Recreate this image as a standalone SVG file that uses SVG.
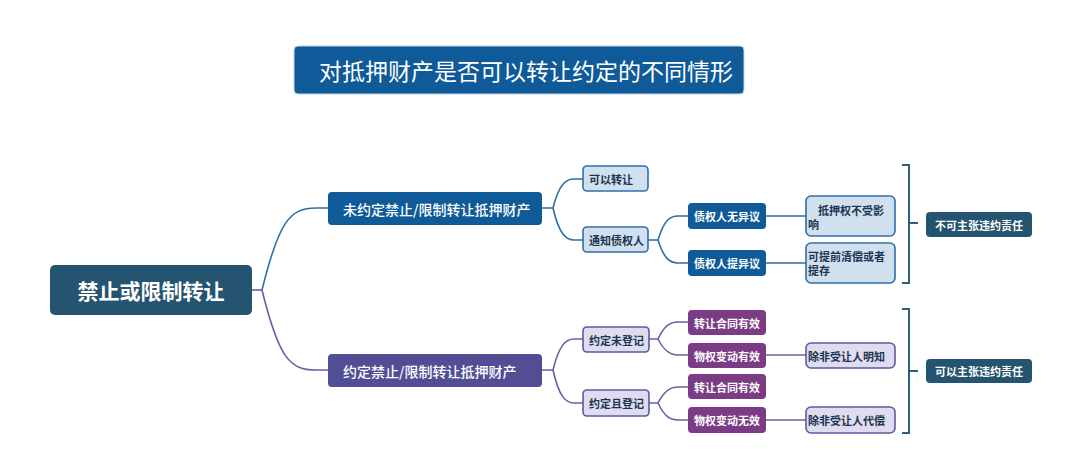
<svg xmlns="http://www.w3.org/2000/svg" width="1080" height="460" viewBox="0 0 1080 460">
<style>
text{font-family:"Noto Sans CJK SC","Noto Sans",sans-serif;dominant-baseline:central}
.w{fill:#ffffff}
.d{fill:#1c3550}
.s11{font-size:11px;font-weight:bold}
.blue{fill:#0f5a98}
.teal{fill:#24546f}
.purple{fill:#524e96}
.mag{fill:#7b3c85}
.lb{fill:#d0e0ee;stroke:#2f6fa8;stroke-width:1.6}
.lp{fill:#dedcee;stroke:#5f57a0;stroke-width:1.6}
.cb{fill:none;stroke:#2e6fa8;stroke-width:1.6}
.cp{fill:none;stroke:#6a5fa8;stroke-width:1.6}
.br{fill:none;stroke:#2f5f80;stroke-width:2}
</style>
<rect width="1080" height="460" fill="#ffffff"/>
<g id="connectors">
<path class="cp" d="M252 290 H262"/>
<path class="cb" d="M262 290 C279 221 290 208 316 208 H328"/>
<path class="cp" d="M262 290 C279 359 290 370 316 370 H328"/>
<path class="cb" d="M542 208 H553 C559 184 566 179 574 179 H583"/>
<path class="cb" d="M553 208 C559 234 566 240 574 240 H583"/>
<path class="cb" d="M648 240 H658 C664 220 670 216 678 216 H688"/>
<path class="cb" d="M658 240 C664 259 670 263 678 263 H688"/>
<path class="cb" d="M766 216 H806"/>
<path class="cb" d="M766 263 H806"/>
<path class="cp" d="M542 370 H553 C559 345 566 339 574 339 H583"/>
<path class="cp" d="M553 370 C559 397 566 403 574 403 H583"/>
<path class="cp" d="M649 339 H658 C664 326 670 322 678 322 H688"/>
<path class="cp" d="M658 339 C664 351 670 355 678 355 H688"/>
<path class="cp" d="M649 403 H658 C664 391 670 387 678 387 H688"/>
<path class="cp" d="M658 403 C664 416 670 420 678 420 H688"/>
<path class="cp" d="M766 355 H806"/>
<path class="cp" d="M766 420 H806"/>
<path class="br" d="M902 165 H909 V283 H902 M909 223 H918"/>
<path class="br" d="M902 309 H909 V433 H902 M909 371 H918"/>
</g>
<g id="title">
<rect x="294" y="46" width="450" height="48" rx="4" class="blue" stroke="#c8d4e0" stroke-width="1"/>
<text x="526" y="70" class="w" font-size="23" text-anchor="middle">对抵押财产是否可以转让约定的不同情形</text>
</g>
<g id="root">
<rect x="50" y="265" width="202" height="50" rx="5" class="teal"/>
<text x="151" y="290" class="w" font-size="21" font-weight="bold" text-anchor="middle">禁止或限制转让</text>
</g>
<g id="n-unagreed">
<rect x="328" y="192" width="214" height="33" rx="4" class="blue"/>
<text x="343" y="208.5" class="w" font-size="14" font-weight="500">未约定禁止/限制转让抵押财产</text>
</g>
<g id="n-agreed">
<rect x="328" y="354" width="214" height="33" rx="4" class="purple"/>
<text x="343" y="370.5" class="w" font-size="14" font-weight="500">约定禁止/限制转让抵押财产</text>
</g>
<g id="n-kyzr">
<rect x="583" y="166" width="65" height="25" rx="4" class="lb"/>
<text x="589" y="178.5" class="d s11">可以转让</text>
</g>
<g id="n-tzzqr">
<rect x="583" y="227" width="65" height="25" rx="4" class="lb"/>
<text x="589" y="239.5" class="d s11">通知债权人</text>
</g>
<g id="n-wyy">
<rect x="688" y="203" width="78" height="26" rx="4" class="blue"/>
<text x="727" y="216" class="w s11" text-anchor="middle">债权人无异议</text>
</g>
<g id="n-tyy">
<rect x="688" y="250" width="78" height="26" rx="4" class="blue"/>
<text x="727" y="263" class="w s11" text-anchor="middle">债权人提异议</text>
</g>
<g id="n-dyq">
<rect x="806" y="196" width="89" height="40" rx="5" class="lb"/>
<text x="818" y="209.5" class="d s11">抵押权不受影</text>
<text x="808" y="223.5" class="d s11">响</text>
</g>
<g id="n-tqqc">
<rect x="806" y="243" width="89" height="40" rx="5" class="lb"/>
<text x="808" y="256" class="d s11">可提前清偿或者</text>
<text x="808" y="270" class="d s11">提存</text>
</g>
<g id="n-bkzz">
<rect x="926" y="212" width="106" height="25" rx="4" class="teal"/>
<text x="979" y="224.5" class="w s11" text-anchor="middle">不可主张违约责任</text>
</g>
<g id="n-wdj">
<rect x="583" y="327" width="66" height="25" rx="4" class="lp"/>
<text x="589" y="339.5" class="d s11">约定未登记</text>
</g>
<g id="n-qdj">
<rect x="583" y="390" width="66" height="26" rx="4" class="lp"/>
<text x="589" y="403" class="d s11">约定且登记</text>
</g>
<g id="n-zr1">
<rect x="688" y="310" width="78" height="25" rx="4" class="mag"/>
<text x="727" y="322.5" class="w s11" text-anchor="middle">转让合同有效</text>
</g>
<g id="n-wq1">
<rect x="688" y="343" width="78" height="25" rx="4" class="mag"/>
<text x="727" y="355.5" class="w s11" text-anchor="middle">物权变动有效</text>
</g>
<g id="n-zr2">
<rect x="688" y="374" width="78" height="25" rx="4" class="mag"/>
<text x="727" y="386.5" class="w s11" text-anchor="middle">转让合同有效</text>
</g>
<g id="n-wq2">
<rect x="688" y="407" width="78" height="26" rx="4" class="mag"/>
<text x="727" y="420" class="w s11" text-anchor="middle">物权变动无效</text>
</g>
<g id="n-mz">
<rect x="806" y="343" width="89" height="25" rx="5" class="lp"/>
<text x="808" y="355.5" class="d s11">除非受让人明知</text>
</g>
<g id="n-dc">
<rect x="806" y="407" width="89" height="26" rx="5" class="lp"/>
<text x="808" y="420" class="d s11">除非受让人代偿</text>
</g>
<g id="n-kyzz">
<rect x="926" y="359" width="106" height="24" rx="4" class="teal"/>
<text x="979" y="371" class="w s11" text-anchor="middle">可以主张违约责任</text>
</g>
</svg>
